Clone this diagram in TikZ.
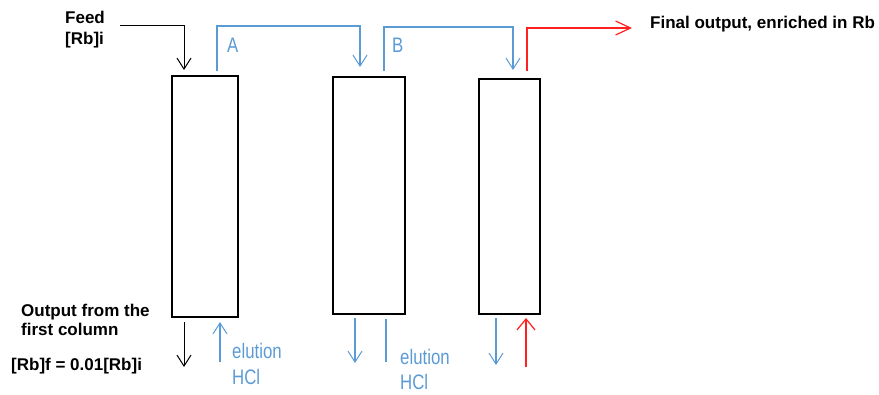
\documentclass[tikz,border=0pt]{standalone}
\usepackage{fontspec}
\setmainfont{Liberation Sans}
\newfontfamily\condfont{Liberation Sans}[FakeStretch=0.8]
\usetikzlibrary{arrows.meta}
\definecolor{lblue}{RGB}{91,155,213}
\definecolor{lred}{RGB}{255,32,32}
\tikzset{
  column/.style={draw=black, line width=1.6pt, minimum width=#1, inner sep=0pt},
  vee/.style={-{Straight Barb[length=11pt,width=14pt,line width=1pt]}},
  bluel/.style={draw=lblue, line width=1.3pt},
  blacktext/.style={anchor=base west, font=\bfseries\fontsize{17}{19}\selectfont, inner sep=0pt},
  bluetext/.style={anchor=base west, text=lblue, font=\condfont\fontsize{21}{23}\selectfont, inner sep=0pt},
}
\begin{document}
\begin{tikzpicture}[x=1pt,y=-1pt]
\useasboundingbox (0,0) rectangle (879,394);
% columns
\node[column=66pt, minimum height=241pt] (c1) at (205,196.5) {};
\node[column=72pt, minimum height=237pt] (c2) at (369,195.5) {};
\node[column=61pt, minimum height=235pt] (c3) at (509.5,196.5) {};
% coordinates
\coordinate (feedS) at (120,25);
\coordinate (feedE) at (184,70);
\coordinate (aS) at (217,71);
\coordinate (aE) at (360,67);
\coordinate (bS) at (384,71);
\coordinate (bE) at (513,70);
\coordinate (rS) at (527,71);
\coordinate (rE) at (632,28);
\coordinate (o1S) at (184,322);
\coordinate (o1E) at (184,367);
\coordinate (e1S) at (220,362);
\coordinate (e1E) at (220,322);
\coordinate (o2S) at (355,318);
\coordinate (o2E) at (355,363);
\coordinate (e2S) at (386,319);
\coordinate (e2E) at (386,362);
\coordinate (o3S) at (496,318);
\coordinate (o3E) at (496,365);
\coordinate (r3S) at (526,367);
\coordinate (r3E) at (526,318);
% top connectors
\draw[vee, line width=1pt, black] (feedS) -| (feedE);
\draw[vee, bluel] (aS) -- ++(0,-45) -| (aE);
\draw[vee, bluel] (bS) -- ++(0,-44) -| (bE);
\draw[-{Straight Barb[length=15pt,width=14pt,line width=1.2pt]}, draw=lred, line width=2pt] (rS) |- (rE);
% bottom connectors
\draw[vee, line width=1pt, black] (o1S) -- (o1E);
\draw[vee, bluel] (e1S) -- (e1E);
\draw[vee, bluel] (o2S) -- (o2E);
\draw[bluel] (e2S) -- (e2E);
\draw[vee, bluel, line width=2pt] (o3S) -- (o3E);
\draw[-{Straight Barb[length=11pt,width=18pt,line width=1.2pt]}, draw=lred, line width=1.3pt] (r3S) -- (r3E);
% labels
\node[blacktext] (feed) at (65,23) {Feed};
\node[blacktext] (rbi) at (65,44) {[Rb]i};
\node[blacktext] (final) at (650,28) {Final output, enriched in Rb};
\node[blacktext] (out1) at (21,316) {Output from the};
\node[blacktext] (out2) at (21,335) {first column};
\node[blacktext] (rbf) at (11,370) {[Rb]f = 0.01[Rb]i};
\node[bluetext] (la) at (227,52) {A};
\node[bluetext] (lb) at (392,52) {B};
\node[bluetext] (el1) at (232,358) {elution};
\node[bluetext] (hcl1) at (232,384) {HCl};
\node[bluetext] (el2) at (400,364) {elution};
\node[bluetext] (hcl2) at (400,389) {HCl};
\end{tikzpicture}
\end{document}
